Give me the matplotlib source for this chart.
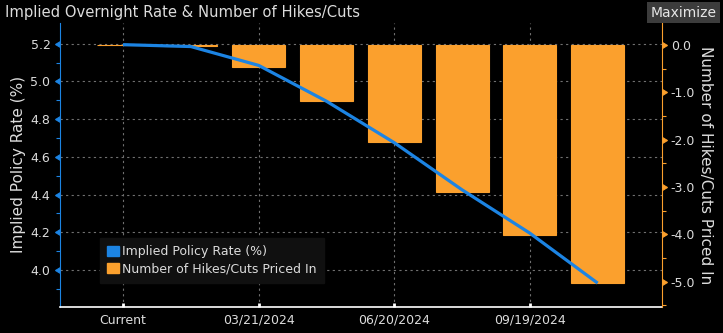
import matplotlib.pyplot as plt
import matplotlib.markers as mk
from matplotlib.patches import Patch

# datos (BoE meetings)
meetings = ["Current", "02/01/2024", "03/21/2024", "05/09/2024",
            "06/20/2024", "08/01/2024", "09/19/2024", "11/07/2024"]
implied_rate = [5.195, 5.185, 5.085, 4.895, 4.675, 4.425, 4.195, 3.93]
hikes_cuts = [0.0, -0.03, -0.46, -1.18, -2.06, -3.10, -4.01, -5.02]
labeled = [0, 2, 4, 6]

blue = "#1c84e3"
orange = "#fba02d"
txt = "#dcdcdc"
grid_c = "#707070"

fig = plt.figure(figsize=(7.23, 3.33), dpi=100, facecolor="black")
ax = fig.add_axes([0.0823, 0.079, 0.833, 0.852])
ax.set_facecolor("black")
ax2 = ax.twinx()
ax3 = ax.twinx()
ax2.patch.set_visible(False)
ax3.patch.set_visible(False)

x = list(range(len(meetings)))

# barras (eje derecho)
ax2.bar(x, hikes_cuts, width=0.78, color=orange, edgecolor=orange, linewidth=0.8)
# linea (eje izquierdo)
ax3.plot(x, implied_rate, color=blue, linewidth=2.3, solid_capstyle="butt")

ax.set_xlim(-0.937, 7.945)
ax.set_ylim(3.805, 5.31)
ax3.set_ylim(3.805, 5.31)
ax2.set_ylim(-5.53, 0.465)

# eje izquierdo
lt = [4.0, 4.2, 4.4, 4.6, 4.8, 5.0, 5.2]
ax.set_yticks(lt)
ax.set_yticklabels([f"{v:.1f}" for v in lt])
ax.set_yticks([3.9, 4.1, 4.3, 4.5, 4.7, 4.9, 5.1], minor=True)
ax.tick_params(axis="y", which="major", colors=blue, labelcolor=txt, labelsize=9, pad=3)
ax.tick_params(axis="y", which="minor", colors=blue, length=3, width=0.8)
for t in ax.yaxis.get_major_ticks():
    t.tick1line.set_marker(mk.CARETLEFTBASE)
    t.tick1line.set_markersize(5)
    t.tick1line.set_color(blue)

# eje derecho
rt = [0.0, -1.0, -2.0, -3.0, -4.0, -5.0]
ax2.set_yticks(rt)
ax2.set_yticklabels([f"{v:.1f}" for v in rt])
ax2.set_yticks([0.0 - 0.5 - i for i in range(6)], minor=True)
ax2.tick_params(axis="y", which="major", colors=orange, labelcolor=txt, labelsize=9, pad=3)
ax2.tick_params(axis="y", which="minor", colors=orange, length=3, width=0.8)
for t in ax2.yaxis.get_major_ticks():
    t.tick2line.set_marker(mk.CARETRIGHTBASE)
    t.tick2line.set_markersize(5)
    t.tick2line.set_color(orange)

ax3.set_yticks([])
ax3.tick_params(axis="y", which="both", right=False, labelright=False)

# eje x
ax.set_xticks(labeled)
ax.set_xticklabels([meetings[i] for i in labeled])
ax.tick_params(axis="x", colors="white", labelcolor=txt, labelsize=9,
               direction="in", length=3, width=2, pad=5)
ax2.tick_params(axis="x", bottom=False)

ax.grid(True, color=grid_c, linestyle=(0, (2, 3)), linewidth=0.8)

for a in (ax, ax2, ax3):
    for s in ("top", "left", "right", "bottom"):
        a.spines[s].set_visible(False)
ax.spines["left"].set_visible(True)
ax.spines["left"].set_color(blue)
ax.spines["bottom"].set_visible(True)
ax.spines["bottom"].set_color("white")
ax.spines["bottom"].set_linewidth(1.2)
ax2.spines["right"].set_visible(True)
ax2.spines["right"].set_color(orange)

ax.set_ylabel("Implied Policy Rate (%)", color=txt, fontsize=11, labelpad=3)
ax2.set_ylabel("Number of Hikes/Cuts Priced In", color=txt, fontsize=11,
               rotation=270, labelpad=13)

handles = [Patch(color=blue, label="Implied Policy Rate (%)"),
           Patch(color=orange, label="Number of Hikes/Cuts Priced In")]
leg = ax3.legend(handles=handles, loc="lower left", bbox_to_anchor=(0.067, 0.085),
                 borderaxespad=0, fontsize=9, frameon=True, facecolor="#101010",
                 edgecolor="#101010", framealpha=1, fancybox=False,
                 handlelength=0.9, handleheight=0.9, handletextpad=0.3,
                 labelspacing=0.3, borderpad=0.6, labelcolor=txt)

fig.text(0.007, 0.962, "Implied Overnight Rate & Number of Hikes/Cuts",
         color=txt, fontsize=10.6, va="center", ha="left")
fig.text(0.946, 0.962, "Maximize", color="#e6e6e6", fontsize=10, va="center", ha="center",
         bbox=dict(boxstyle="square,pad=0.25", facecolor="#3c3c3c", edgecolor="none"))

plt.savefig("out.png", dpi=100, facecolor="black")
